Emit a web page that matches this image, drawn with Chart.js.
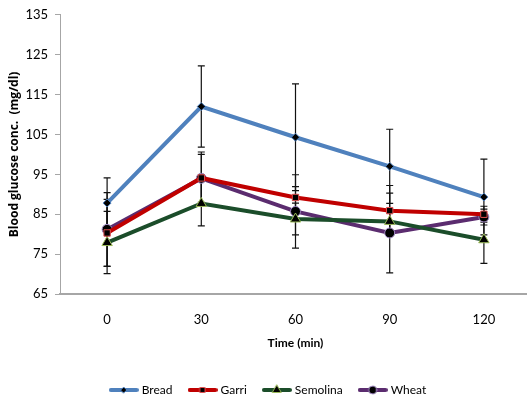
<!DOCTYPE html>
<html>
<head>
<meta charset="utf-8">
<script src="https://cdn.jsdelivr.net/npm/chart.js@4"></script>
<style>
  html, body { margin: 0; padding: 0; background: #fff; overflow: hidden; }
  #wrap { width: 527px; height: 400px; overflow: hidden; }
</style>
</head>
<body>
<div id="wrap"><canvas id="chart" width="538" height="400"></canvas></div>
<script>
// time points (min)
const times = ['0', '30', '60', '90', '120'];

// mean blood glucose (mg/dl)
const bread    = [87.8, 112.0, 104.3, 97.0, 89.3];
const garri    = [80.3, 94.1, 89.2, 85.9, 85.0];
const semolina = [77.9, 87.7, 83.8, 83.2, 78.6];
const wheat    = [81.2, 94.0, 85.7, 80.3, 84.3];

// standard deviations (error bars)
const breadErr    = [6.3, 10.2, 13.4, 9.3, 9.5];
const garriErr    = [8.4, 6.5, 2.7, 6.3, 2.0];
const semolinaErr = [7.8, 5.6, 4.0, 3.0, 5.9];
const wheatErr    = [9.2, 6.0, 9.2, 10.0, 2.0];

const FONT = 'Lato, "Liberation Sans", sans-serif';

// small legend swatch: line + marker, like the spreadsheet legend
function swatch(color, style, fill, border, r){
  const c = document.createElement('canvas');
  c.width = 30; c.height = 12;
  const g = c.getContext('2d');
  g.strokeStyle = color; g.lineWidth = 4; g.lineCap = 'round';
  g.beginPath(); g.moveTo(2, 6); g.lineTo(28, 6); g.stroke();
  g.fillStyle = fill; g.strokeStyle = border; g.lineWidth = 1;
  Chart.helpers.drawPoint(g, { pointStyle: style, radius: r, borderWidth: 1 }, 15, 6);
  return c;
}

function series(label, data, err, color, style, border, r){
  return {
    label, data, err,
    borderColor: color, backgroundColor: color,
    borderWidth: 4, tension: 0,
    pointStyle: style, pointRadius: r, pointHoverRadius: r,
    pointBackgroundColor: '#000', pointBorderColor: border, pointBorderWidth: 1,
    legendImg: swatch(color, style, '#000', border, r - 1)
  };
}

// draws the vertical error bars using the chart's own scales
const errorBars = {
  id: 'errorBars',
  beforeDatasetsDraw(chart){
    const { ctx, scales: { x, y } } = chart;
    ctx.save();
    ctx.strokeStyle = '#111';
    ctx.lineWidth = 1.2;
    chart.data.datasets.forEach(ds => {
      ds.data.forEach((v, i) => {
        const px = x.getPixelForValue(i);
        const top = y.getPixelForValue(v + ds.err[i]);
        const bot = y.getPixelForValue(v - ds.err[i]);
        ctx.beginPath();
        ctx.moveTo(px, top); ctx.lineTo(px, bot);
        ctx.moveTo(px - 3.5, top); ctx.lineTo(px + 3.5, top);
        ctx.moveTo(px - 3.5, bot); ctx.lineTo(px + 3.5, bot);
        ctx.stroke();
      });
    });
    ctx.restore();
  }
};

new Chart(document.getElementById('chart').getContext('2d'), {
  type: 'line',
  data: {
    labels: times,
    datasets: [
      series('Bread', bread, breadErr, '#4f81bd', 'rectRot', '#4f81bd', 4),
      series('Garri', garri, garriErr, '#c00000', 'rect', '#e05050', 4.5),
      series('Semolina', semolina, semolinaErr, '#1b4d2a', 'triangle', '#9bbb59', 6),
      series('Wheat', wheat, wheatErr, '#5b2c6f', 'circle', '#a58cc8', 5)
    ]
  },
  options: {
    responsive: false,
    animation: false,
    layout: { padding: { top: 14, right: 0, bottom: -6, left: 0 } },
    plugins: {
      tooltip: { enabled: false },
      legend: {
        position: 'bottom',
        labels: {
          usePointStyle: true,
          pointStyleWidth: 24,
          padding: 18,
          color: '#000',
          font: { family: FONT, size: 12 },
          generateLabels(chart){
            return chart.data.datasets.map((ds, i) => ({
              text: ds.label, pointStyle: ds.legendImg, datasetIndex: i,
              fillStyle: ds.borderColor, strokeStyle: ds.borderColor, lineWidth: 0, fontColor: '#000'
            }));
          }
        }
      }
    },
    scales: {
      x: {
        offset: true,
        grid: { display: false, drawTicks: false },
        border: { color: '#a6a6a6', width: 2 },
        ticks: { padding: 18, color: '#000', font: { family: FONT, size: 13 } },
        title: {
          display: true, text: 'Time (min)', color: '#000',
          font: { family: FONT, size: 12, weight: 'bold' },
          padding: { top: 4, bottom: 16 }
        },
        afterFit(scale){ scale.height = 72; }
      },
      y: {
        min: 65, max: 135,
        grid: { drawOnChartArea: false, tickLength: 5, color: '#a6a6a6' },
        border: { color: '#a6a6a6', width: 1 },
        ticks: { stepSize: 10, padding: 7, color: '#000', font: { family: FONT, size: 13 } },
        title: {
          display: true, text: 'Blood glucose conc.  (mg/dl)', color: '#000',
          font: { family: '"Open Sans", Lato, sans-serif', size: 12, weight: 'bold' },
          padding: { top: 7, bottom: 0 }
        },
        afterFit(scale){ scale.width = 60; }
      }
    }
  },
  plugins: [errorBars]
});
</script>
</body>
</html>
